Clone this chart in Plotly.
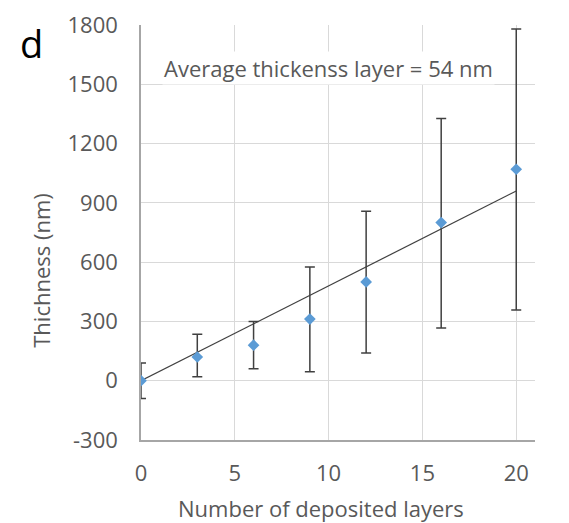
import numpy as np
import plotly.graph_objects as go

layers = [0, 3, 6, 9, 12, 16, 20]
thickness = [0, 120, 180, 312, 500, 800, 1070]
err_plus = [90, 115, 120, 263, 357, 527, 710]
err_minus = [90, 100, 120, 267, 360, 533, 712]
y_ticks = [-300, 0, 300, 600, 900, 1200, 1500, 1800]
y_ticktext = ["-300", "0", "300", "600", "900", "1200", "1500", "1800"]
x_ticks = [0, 5, 10, 15, 20]

# linear trendline through origin (least squares)
xa = np.array(layers, dtype=float)
ya = np.array(thickness, dtype=float)
slope = float((xa * ya).sum() / (xa * xa).sum())
trend_x = [min(layers), max(layers)]
trend_y = [slope * v for v in trend_x]

FONT = "Open Sans"
GRAY = "#595959"
FS = 22

fig = go.Figure()
fig.add_trace(go.Scatter(
    x=trend_x, y=trend_y, mode="lines",
    line=dict(color="#404040", width=1.2), showlegend=False, hoverinfo="skip"))
fig.add_trace(go.Scatter(
    x=layers, y=thickness, mode="markers",
    marker=dict(symbol="diamond", size=9, color="#5B9BD5"),
    error_y=dict(type="data", symmetric=False, array=err_plus, arrayminus=err_minus,
                 color="#404040", thickness=1.5, width=5),
    showlegend=False))

fig.add_annotation(x=0.477, y=1582, xref="paper", yref="y", text="Average thickenss layer = 54 nm",
                   showarrow=False, xanchor="center", yanchor="middle",
                   font=dict(family=FONT, size=FS, color=GRAY), bgcolor="white")
fig.add_annotation(x=-0.254, y=0.41, xref="paper", yref="paper", text="Thichness (nm)",
                   textangle=-90, showarrow=False, xanchor="center", yanchor="middle",
                   font=dict(family=FONT, size=FS, color=GRAY))
fig.add_annotation(x=0.457, y=-0.163, xref="paper", yref="paper", text="Number of deposited layers",
                   showarrow=False, xanchor="center", yanchor="middle",
                   font=dict(family=FONT, size=FS, color=GRAY))
fig.add_annotation(x=-0.312, y=0.957, xref="paper", yref="paper", text="d",
                   showarrow=False, xanchor="left", yanchor="middle",
                   font=dict(family=FONT, size=38, color="black"))

fig.update_layout(
    width=561, height=515,
    margin=dict(l=133, r=34, t=17, b=83),
    paper_bgcolor="white", plot_bgcolor="white",
    font=dict(family=FONT, size=FS, color=GRAY),
    xaxis=dict(range=[0, 21], tickvals=x_ticks, showgrid=True,
               gridcolor="#D9D9D9", gridwidth=1, zeroline=False,
               showline=True, linecolor="#A6A6A6", linewidth=1.5,
               ticks="", ticklabelstandoff=13, automargin=False,
               tickfont=dict(family=FONT, size=FS, color=GRAY)),
    yaxis=dict(range=[-300, 1800], tickvals=y_ticks, ticktext=y_ticktext,
               showgrid=True, gridcolor="#D9D9D9", gridwidth=1, zeroline=False,
               showline=True, linecolor="#A6A6A6", linewidth=1.5,
               ticks="", ticklabelstandoff=17, automargin=False,
               tickfont=dict(family=FONT, size=FS, color=GRAY)),
)

fig.write_html("out.html")
